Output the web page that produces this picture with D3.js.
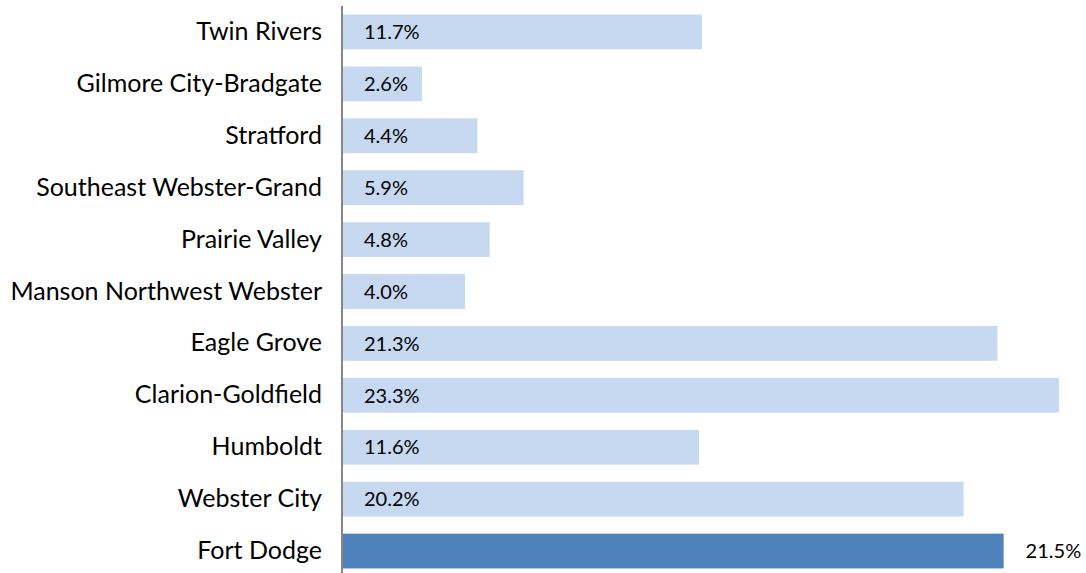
<!DOCTYPE html>
<html><head><meta charset="utf-8">
<script src="https://cdn.jsdelivr.net/npm/d3@7"></script>
<style>body{margin:0;background:#fff}</style>
</head><body>
<svg id="c" width="1086" height="573"></svg>
<script>
const categories = ["Twin Rivers","Gilmore City-Bradgate","Stratford","Southeast Webster-Grand","Prairie Valley","Manson Northwest Webster","Eagle Grove","Clarion-Goldfield","Humboldt","Webster City","Fort Dodge"];
const values = [11.7,2.6,4.4,5.9,4.8,4.0,21.3,23.3,11.6,20.2,21.5];
const highlight = "Fort Dodge";

const svg = d3.select("#c");
const font = "Lato, 'Open Sans', sans-serif";
const x = d3.scaleLinear().domain([0, 23.3]).range([342, 1059]);
const y = d3.scaleBand().domain(categories).range([6, 577]).paddingInner(0.33).paddingOuter(0.165);

const data = categories.map((c,i)=>({c, v: values[i]}));

svg.selectAll("rect.bar").data(data).join("rect")
  .attr("class","bar")
  .attr("x", x(0))
  .attr("y", d=>y(d.c))
  .attr("width", d=>x(d.v)-x(0))
  .attr("height", y.bandwidth())
  .attr("fill", d=>d.c===highlight ? "#4F81BD" : "#C6D9F0");

svg.selectAll("text.val").data(data).join("text")
  .attr("class","val")
  .attr("x", d=>d.c===highlight ? x(d.v)+22 : x(0)+22)
  .attr("y", d=>y(d.c)+y.bandwidth()/2)
  .attr("dy","0.36em")
  .attr("font-family", font)
  .attr("font-size", 20)
  .attr("fill","#000")
  .text(d=>d.v.toFixed(1)+"%");

const axis = d3.axisLeft(y).tickSize(0).tickPadding(20);
const g = svg.append("g").attr("transform",`translate(${x(0)},0)`).call(axis);
g.select(".domain").attr("d", `M0,6V573`).attr("stroke","#868686").attr("stroke-width",2);
g.selectAll(".tick text").attr("font-family", font).attr("font-size", 25).attr("fill","#000");
</script>
</body></html>
